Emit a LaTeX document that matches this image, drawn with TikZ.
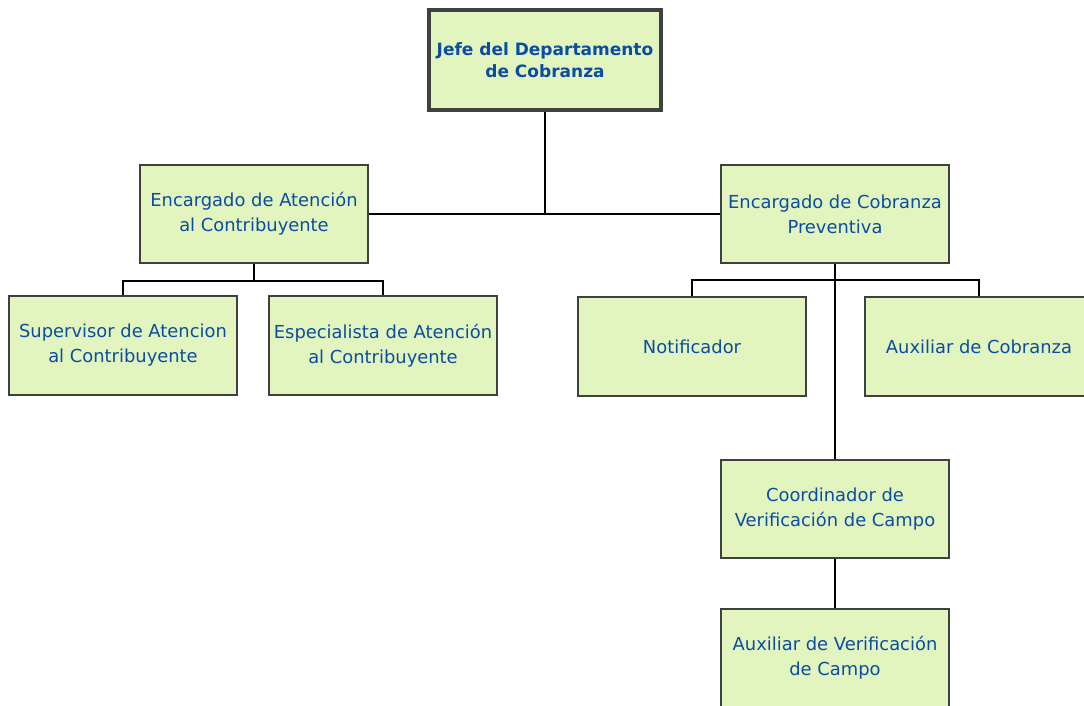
\documentclass[tikz,border=0pt]{standalone}
\usepackage{fontspec}
\setmainfont{DejaVu Sans}
\definecolor{boxfill}{HTML}{E2F5BE}
\definecolor{boxline}{HTML}{404040}
\definecolor{txt}{HTML}{0A4DA2}
\tikzset{
  unit/.style={draw=boxline, line width=1.5pt, fill=boxfill, text=txt, align=center,
    minimum width=228pt, minimum height=98pt, inner sep=0pt,
    font=\fontsize{17.9}{25}\selectfont},
  head/.style={unit, line width=4pt, minimum width=232pt, minimum height=100pt,
    font=\bfseries\fontsize{17}{22}\selectfont},
  link/.style={draw=black, line width=1.6pt}
}
\begin{document}
\begin{tikzpicture}[x=1pt,y=-1pt]
\useasboundingbox (0,0) rectangle (1084,705);
\clip (0,0) rectangle (1084,705);
\node[head] (jefe) at (545,60) {Jefe del Departamento\\de Cobranza};
\node[unit] (enc1) at (254,214) {Encargado de Atención\\al Contribuyente};
\node[unit] (enc2) at (835,214) {Encargado de Cobranza\\Preventiva};
\node[unit, minimum height=99pt] (sup) at (123,345.5) {Supervisor de Atencion\\al Contribuyente};
\node[unit, minimum height=99pt] (esp) at (383,345.5) {Especialista de Atención\\al Contribuyente};
\node[unit, minimum height=99pt] (noti) at (692,346.5) {Notificador};
\node[unit, minimum height=99pt] (auxc) at (979,346.5) {Auxiliar de Cobranza};
\node[unit] (coord) at (835,509) {Coordinador de\\Verificación de Campo};
\node[unit] (auxv) at (835,658) {Auxiliar de Verificación\\de Campo};
\coordinate (b1) at (254,281);
\coordinate (b2) at (835,280);
\draw[link] (enc1.east) -- (enc2.west);
\draw[link] (jefe.south) -- (jefe.south |- enc1.east);
\draw[link] (enc1.south) -- (b1);
\draw[link] (sup.north) |- (b1) -| (esp.north);
\draw[link] (noti.north) |- (b2) -| (auxc.north);
\draw[link] (enc2.south) -- (coord.north);
\draw[link] (coord.south) -- (auxv.north);
\end{tikzpicture}
\end{document}
